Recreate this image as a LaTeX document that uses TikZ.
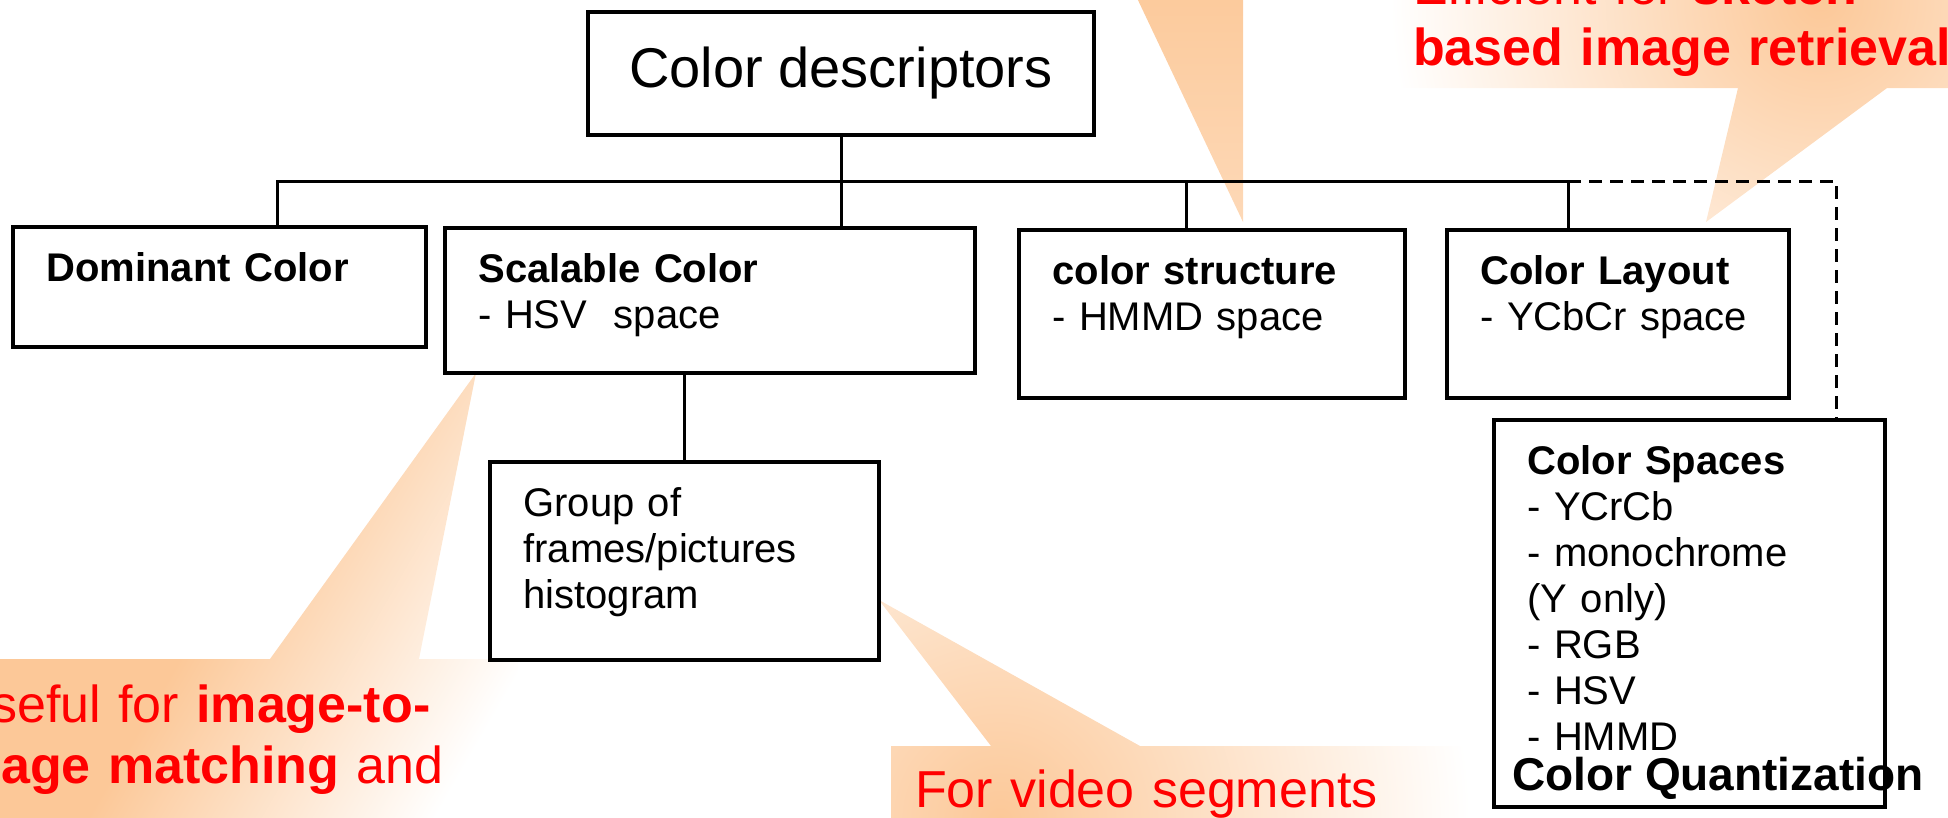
\documentclass[tikz,border=0pt]{standalone}
\usepackage{fontspec}
\setmainfont{Liberation Sans}
\definecolor{peach}{RGB}{252,200,152}

\begin{document}
\begin{tikzpicture}
[x=1pt,y=-1pt,
  boxDecorate/.style={draw,line width=3.5pt,fill=white,inner sep=0pt},%
  textDecorate/.style={anchor=base west,text width=420pt,align=left,inner sep=0pt,font=\fontsize{40}{46}\selectfont},%
  lineDecorate/.style={line width=3pt},%
  dashDecorate/.style={line width=3pt,dash pattern=on 13pt off 8pt},%
  noteDecorate/.style={text=red,inner sep=0pt,text width=640pt,font=\fontsize{52}{61}\selectfont}]
\useasboundingbox (0,0) rectangle (1948,817);
\clip (0,0) rectangle (1948,817);

%% callouts
\shade[top color=peach,bottom color=peach!70!white] (1119,-40) -- (1243,-40) -- (1243,222) -- cycle;
\begin{scope}
  \clip (1389,-40) -- (2000,-40) -- (2000,88) -- (1887,88) -- (1706,222) -- (1738,88) -- (1389,88) -- cycle;
  \fill[white] (1389,-40) rectangle (2000,222);
  \shade[inner color=peach,outer color=white] (1820,0) circle (430pt);
\end{scope}
\shade[top color=white,bottom color=peach,middle color=peach,shading angle=-120]
  (-134,659) -- (270,659) -- (476,373) -- (419,659) -- (518,659) -- (518,900) -- (-134,900) -- cycle;
\begin{scope}
  \clip (891,746) -- (991,746) -- (879,600) -- (1140,746) -- (1560,746) -- (1560,900) -- (891,900) -- cycle;
  \fill[white] (879,600) rectangle (1560,900);
  \shade[inner color=peach,outer color=white] (1000,820) circle (470pt);
\end{scope}
\node (noteScalable) [noteDecorate,align=center,anchor=base] at (192,722) {Useful for \textbf{image-to-}\\\textbf{image matching} and};
\node (noteLayout) [noteDecorate,align=left,anchor=base west] at (1413,4) {Efficient for \textbf{sketch-}\\\textbf{based image retrieval}};
\node (noteGroup) [noteDecorate,align=left,anchor=base west] at (915,807) {For video segments};

%% nodes or boxes
\node (root) [boxDecorate,minimum width=506pt,minimum height=123pt,font=\fontsize{56}{60}\selectfont] at (841,73.5) {Color descriptors};
\foreach \nodename/\xa/\ya/\xb/\yb in {dominant/13/227/426/347, scalable/445/228/975/373, group/490/462/879/660,
  structure/1019/230/1405/398, layout/1447/230/1789/398, spaces/1494/420/1885/807}
{
  \node (\nodename) at ({(\xa+\xb)/2},{(\ya+\yb)/2}) [boxDecorate,minimum width={(\xb-\xa)*1pt},minimum height={(\yb-\ya)*1pt}] {};
}
\foreach \nodename/\nodetext in {
  dominant/{\textbf{Dominant Color}},
  scalable/{\textbf{Scalable Color}\\- HSV~ space},
  group/{Group of\\frames/pictures\\histogram},
  structure/{\textbf{color structure}\\- HMMD space},
  layout/{\textbf{Color Layout}\\- YCbCr space},
  spaces/{\textbf{Color Spaces}\\- YCrCb\\- monochrome\\(Y only)\\- RGB\\- HSV\\- HMMD}}
{
  \node (\nodename Text) at ([xshift=35pt,yshift=-56pt]\nodename.north west) [textDecorate] {\nodetext};
}

%% edges or lines
\coordinate (busLeft) at (277,181);
\coordinate (busStructure) at (1186,181);
\coordinate (busLayout) at (1568,181);
\coordinate (busRight) at (1836,181);
\draw[lineDecorate] (root.south) -- (root.south |- scalable.north);
\draw[lineDecorate] (busLeft |- dominant.north) -- (busLeft) -- (busLayout);
\foreach \nodename/\busname in {structure/busStructure, layout/busLayout}
{
  \draw[lineDecorate] (\busname) -- (\busname |- \nodename.north);
}
\draw[lineDecorate] (group.north |- scalable.south) -- (group.north);
\draw[dashDecorate] (busLayout) -- (busRight) -- (busRight |- spaces.north);

\node (quantization) [anchor=base west,inner sep=0pt,font=\fontsize{46}{50}\selectfont\bfseries] at (1512,790) {Color Quantization};
\end{tikzpicture}
\end{document}
